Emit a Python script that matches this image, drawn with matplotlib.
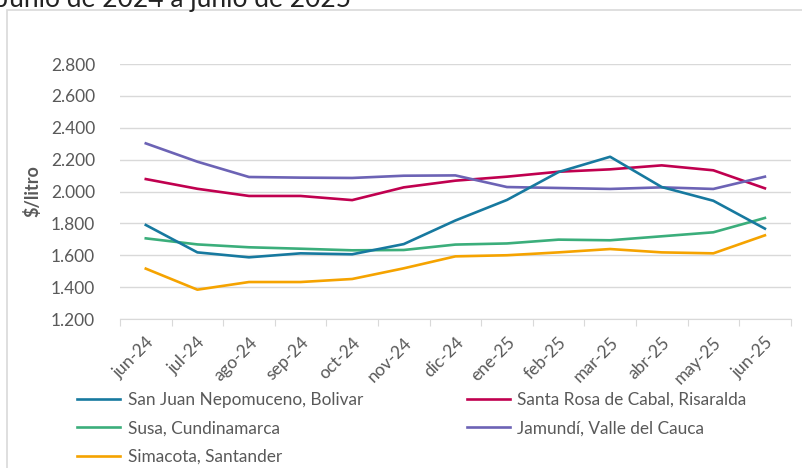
import matplotlib
matplotlib.use("Agg")
import matplotlib.pyplot as plt
import matplotlib.ticker as mticker
from matplotlib.patches import Rectangle

# Precio por litro, junio 2024 a junio 2025
meses = ["jun-24", "jul-24", "ago-24", "sep-24", "oct-24", "nov-24", "dic-24",
         "ene-25", "feb-25", "mar-25", "abr-25", "may-25", "jun-25"]

san_juan = [1790, 1618, 1587, 1612, 1606, 1670, 1818, 1947, 2122, 2218, 2028, 1942, 1767]
santa_rosa = [2078, 2017, 1972, 1972, 1946, 2026, 2068, 2093, 2124, 2139, 2164, 2133, 2020]
susa = [1706, 1668, 1650, 1641, 1631, 1633, 1667, 1674, 1698, 1694, 1719, 1744, 1834]
jamundi = [2302, 2187, 2091, 2087, 2085, 2099, 2101, 2028, 2022, 2016, 2026, 2016, 2093]
simacota = [1516, 1384, 1432, 1432, 1451, 1518, 1593, 1600, 1618, 1639, 1618, 1612, 1725]

series = [
    ("San Juan Nepomuceno, Bolivar", san_juan, "#17799F"),
    ("Susa, Cundinamarca", susa, "#3BAE7B"),
    ("Simacota, Santander", simacota, "#F5A300"),
    ("Santa Rosa de Cabal, Risaralda", santa_rosa, "#C0004F"),
    ("Jamundí, Valle del Cauca", jamundi, "#6C63B5"),
]
draw_order = [3, 4, 1, 2, 0]

plt.rcParams['font.family'] = ['Lato', 'DejaVu Sans']
txt_gray = "#595959"
grid_gray = "#D9D9D9"

fig = plt.figure(figsize=(8.02, 4.68), dpi=100)
ax = fig.add_axes([120 / 802, 1 - 319 / 468, 670.7 / 802, 255 / 468])

x = list(range(len(meses)))
lines = {}
for i in draw_order:
    name, vals, col = series[i]
    lines[i], = ax.plot(x, vals, color=col, lw=1.9, solid_joinstyle='round', label=name)

ax.set_xlim(-0.5, len(meses) - 0.5)
ax.set_ylim(1200, 2800)
ax.yaxis.set_major_locator(mticker.MultipleLocator(200))
ax.yaxis.set_major_formatter(mticker.FuncFormatter(lambda v, p: f"{v:,.0f}".replace(",", ".")))
ax.grid(axis='y', color=grid_gray, lw=1)
ax.set_axisbelow(True)
for s in ['top', 'right', 'left']:
    ax.spines[s].set_visible(False)
ax.spines['bottom'].set_color(grid_gray)
ax.spines['bottom'].set_zorder(0.5)

# tick marks between months, labels centred on each month
ax.set_xticks([i - 0.5 for i in range(len(meses) + 1)], minor=False)
ax.set_xticklabels([])
ax.tick_params(axis='x', which='major', length=5, color=grid_gray)
ax.set_xticks(x, minor=True)
ax.set_xticklabels(meses, minor=True, rotation=45, ha='right', va='top',
                   rotation_mode='anchor', fontsize=12.5, color=txt_gray)
ax.tick_params(axis='x', which='minor', length=0, pad=11)
ax.tick_params(axis='y', length=0, labelsize=12.5, labelcolor=txt_gray, pad=18)

ax.set_ylabel("$/litro", fontsize=13, fontweight='bold', color=txt_gray)
ax.yaxis.set_label_coords(-79 / 670.7, 0.5)

fig.text(-2 / 802, 1 - 7 / 468, "Junio de 2024 a junio de 2025", fontsize=19,
         ha='left', va='baseline', color="#222222")

fig.patches.append(Rectangle((7 / 802, -0.05), 1.0, 1 - 10 / 468 + 0.05,
                             transform=fig.transFigure, fill=False,
                             edgecolor=grid_gray, lw=1.2))

fig.legend([lines[i] for i in range(5)], [s[0] for s in series],
           loc='upper left', bbox_to_anchor=(77 / 802, 1 - 392 / 468), ncol=2,
           frameon=False, fontsize=12.4, handlelength=2.5, handletextpad=0.45,
           labelspacing=0.72, columnspacing=6.0, borderpad=0, borderaxespad=0,
           labelcolor=txt_gray)

fig.savefig("out.png", dpi=100)
